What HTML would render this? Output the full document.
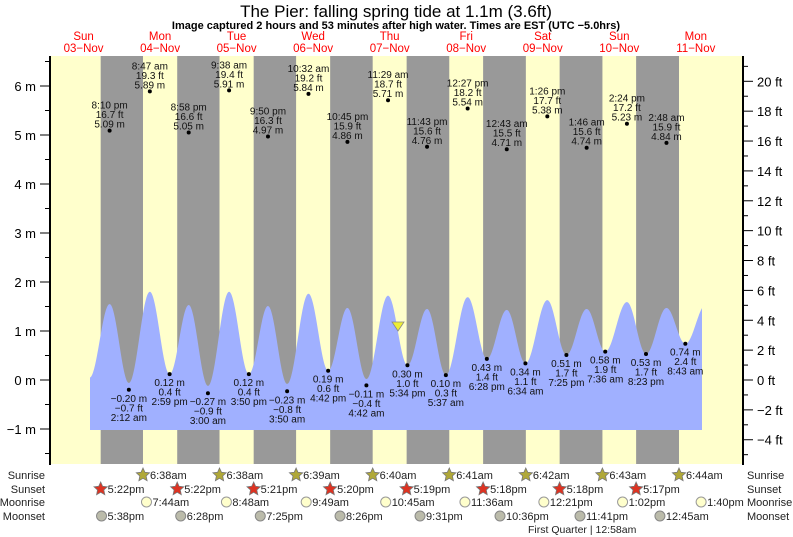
<!DOCTYPE html>
<html><head><meta charset="utf-8"><style>
html,body{margin:0;padding:0;background:#fff;}
svg{display:block;font-family:"Liberation Sans",sans-serif;}
</style></head><body>
<svg id="s" width="793" height="537" xmlns="http://www.w3.org/2000/svg"></svg>
<script>
const S=document.getElementById('s');
let h='';
const X0=45.3,DW=76.53,PH=DW/24;
const X=t=>X0+t*PH;
const Y=m=>380-m*49;
function tm(s,d){let m=s.match(/(\d+):(\d+)\s*(am|pm)/);let hr=+m[1]%12;if(m[3]=='pm')hr+=12;return d*24+hr+ +m[2]/60;}
h+=`<rect x="50" y="56" width="693" height="408" fill="#ffffcc"/>`;
const sunset=['5:22pm','5:22pm','5:21pm','5:20pm','5:19pm','5:18pm','5:18pm','5:17pm'];
const sunrise=['6:38am','6:38am','6:39am','6:40am','6:41am','6:42am','6:43am','6:44am'];
for(let d=0;d<8;d++){let a=X(tm(sunset[d],d)),b=X(tm(sunrise[d],d+1));h+=`<rect x="${a}" y="56" width="${b-a}" height="408" fill="#999999"/>`;}
const ex=[[13.9,0.05],[20.17,1.55],[26.2,-0.06],[32.78,1.80],[38.98,0.12],[44.97,1.53],[51.0,-0.12],[57.63,1.80],[63.83,0.12],[69.83,1.51],[75.83,-0.08],[82.53,1.76],[88.7,0.19],[94.75,1.47],[100.7,0.02],[107.48,1.72],[113.57,0.30],[119.72,1.45],[125.62,0.10],[132.45,1.69],[138.47,0.43],[144.72,1.43],[150.57,0.34],[157.43,1.63],[163.42,0.51],[169.77,1.45],[175.6,0.58],[182.4,1.59],[188.38,0.53],[194.8,1.47],[200.72,0.74],[207.3,1.55]];
function lvl(t){for(let i=0;i<ex.length-1;i++){if(t>=ex[i][0]&&t<=ex[i+1][0]){let f=(t-ex[i][0])/(ex[i+1][0]-ex[i][0]);return ex[i][1]+(ex[i+1][1]-ex[i][1])*(1-Math.cos(Math.PI*f))/2;}}return 0;}
let p=`M90,430 L90,${Y(lvl((90-X0)/PH))}`;
for(let x=90;x<=702;x+=0.5){p+=` L${x},${Y(lvl((x-X0)/PH)).toFixed(1)}`;}
p+=` L702,430 Z`;
h+=`<path d="${p}" fill="#a0b0ff"/>`;
h+=`<line x1="50" y1="56" x2="50" y2="465" stroke="#000" stroke-width="2"/><line x1="743" y1="56" x2="743" y2="465" stroke="#000" stroke-width="2"/>`;
for(let m=-1.5;m<=6.5;m+=0.5){let y=Y(m);let maj=Number.isInteger(m);h+=`<line x1="${maj?40:45}" y1="${y}" x2="50" y2="${y}" stroke="#000"/>`;if(maj)h+=`<text x="36" y="${y+5}" font-size="13" text-anchor="end">${m<0?'\u2212'+(-m):m} m</text>`;}
for(let f=-5;f<=21;f++){let y=380-f*0.3048*49;let maj=f%2==0;h+=`<line x1="743" y1="${y}" x2="${maj?753:748}" y2="${y}" stroke="#000"/>`;if(maj)h+=`<text x="757" y="${y+5}" font-size="13">${f<0?'\u2212'+(-f):f} ft</text>`;}
h+=`<text x="396" y="17" font-size="17" text-anchor="middle">The Pier: falling  spring tide at 1.1m (3.6ft)</text>`;
h+=`<text x="396" y="29" font-size="11" font-weight="bold" text-anchor="middle">Image captured 2 hours and 53 minutes after high water. Times are EST (UTC \u22125.0hrs)</text>`;
const dn=['Sun','Mon','Tue','Wed','Thu','Fri','Sat','Sun','Mon'];
for(let d=0;d<9;d++){let x=X(d*24+12);h+=`<text x="${x}" y="40" font-size="11.5" fill="#ff0000" text-anchor="middle">${dn[d]}</text><text x="${x}" y="52" font-size="11.5" fill="#ff0000" text-anchor="middle">${String(3+d).padStart(2,'0')}\u2212Nov</text>`;}
const hi=[['8:10 pm',0,'16.7','5.09'],['8:47 am',1,'19.3','5.89'],['8:58 pm',1,'16.6','5.05'],['9:38 am',2,'19.4','5.91'],['9:50 pm',2,'16.3','4.97'],['10:32 am',3,'19.2','5.84'],['10:45 pm',3,'15.9','4.86'],['11:29 am',4,'18.7','5.71'],['11:43 pm',4,'15.6','4.76'],['12:27 pm',5,'18.2','5.54'],['12:43 am',6,'15.5','4.71'],['1:26 pm',6,'17.7','5.38'],['1:46 am',7,'15.6','4.74'],['2:24 pm',7,'17.2','5.23'],['2:48 am',8,'15.9','4.84']];
for(const [t,d,f,m] of hi){let x=X(tm(t,d)),y=Y(+m);h+=`<circle cx="${x}" cy="${y}" r="2" fill="#000"/><g font-size="10" text-anchor="middle" fill="#111"><text x="${x}" y="${y-22}">${t}</text><text x="${x}" y="${y-12.5}">${f} ft</text><text x="${x}" y="${y-3}">${m} m</text></g>`;}
const lo=[['2:12 am',1,'\u22120.7','\u22120.20',-0.20],['2:59 pm',1,'0.4','0.12',0.12],['3:00 am',2,'\u22120.9','\u22120.27',-0.27],['3:50 pm',2,'0.4','0.12',0.12],['3:50 am',3,'\u22120.8','\u22120.23',-0.23],['4:42 pm',3,'0.6','0.19',0.19],['4:42 am',4,'\u22120.4','\u22120.11',-0.11],['5:34 pm',4,'1.0','0.30',0.30],['5:37 am',5,'0.3','0.10',0.10],['6:28 pm',5,'1.4','0.43',0.43],['6:34 am',6,'1.1','0.34',0.34],['7:25 pm',6,'1.7','0.51',0.51],['7:36 am',7,'1.9','0.58',0.58],['8:23 pm',7,'1.7','0.53',0.53],['8:43 am',8,'2.4','0.74',0.74]];
for(const [t,d,f,m,v] of lo){let x=X(tm(t,d)),y=Y(v);h+=`<circle cx="${x}" cy="${y}" r="2" fill="#000"/><g font-size="10" text-anchor="middle" fill="#111"><text x="${x}" y="${y+12}">${m} m</text><text x="${x}" y="${y+21.5}">${f} ft</text><text x="${x}" y="${y+31}">${t}</text></g>`;}
h+=`<polygon points="392,322 404,322 398,331" fill="#eeee33" stroke="#888" stroke-width="0.8"/>`;
const rows=[['Sunrise',479],['Sunset',493],['Moonrise',506],['Moonset',520]];
for(const [n,y] of rows){h+=`<text x="45" y="${y}" font-size="11" text-anchor="end" fill="#222">${n}</text><text x="747" y="${y}" font-size="11" fill="#222">${n}</text>`;}
function star(cx,cy,fill){let pts=[];for(let i=0;i<10;i++){let r=i%2?3.3:7,a=-Math.PI/2+i*Math.PI/5;pts.push((cx+r*Math.cos(a)).toFixed(1)+','+(cy+r*Math.sin(a)).toFixed(1));}return `<polygon points="${pts.join(' ')}" fill="${fill}" stroke="#777" stroke-width="0.8"/>`;}
for(let d=0;d<8;d++){let x=X(tm(sunrise[d],d+1));h+=star(x,475,'#b0a838')+`<text x="${x+7}" y="479" font-size="11" fill="#222">${sunrise[d]}</text>`;
x=X(tm(sunset[d],d));h+=star(x,489,'#dd3322')+`<text x="${x+7}" y="493" font-size="11" fill="#222">${sunset[d]}</text>`;}
const mr=['7:44am','8:48am','9:49am','10:45am','11:36am','12:21pm','1:02pm','1:40pm'];
for(let d=0;d<8;d++){let x=X(tm(mr[d],d+1));h+=`<circle cx="${x}" cy="502" r="5" fill="#ffffcc" stroke="#999"/><text x="${x+6}" y="506" font-size="11" fill="#222">${mr[d]}</text>`;}
const ms=[['5:38pm',0],['6:28pm',1],['7:25pm',2],['8:26pm',3],['9:31pm',4],['10:36pm',5],['11:41pm',6],['12:45am',8]];
for(const [t,d] of ms){let x=X(tm(t,d));h+=`<circle cx="${x}" cy="516" r="5" fill="#bbbbaa" stroke="#888"/><text x="${x+6}" y="520" font-size="11" fill="#222">${t}</text>`;}
h+=`<text x="528" y="533" font-size="10.5" fill="#222">First Quarter | 12:58am</text>`;
S.innerHTML=h;
</script>
</body></html>
